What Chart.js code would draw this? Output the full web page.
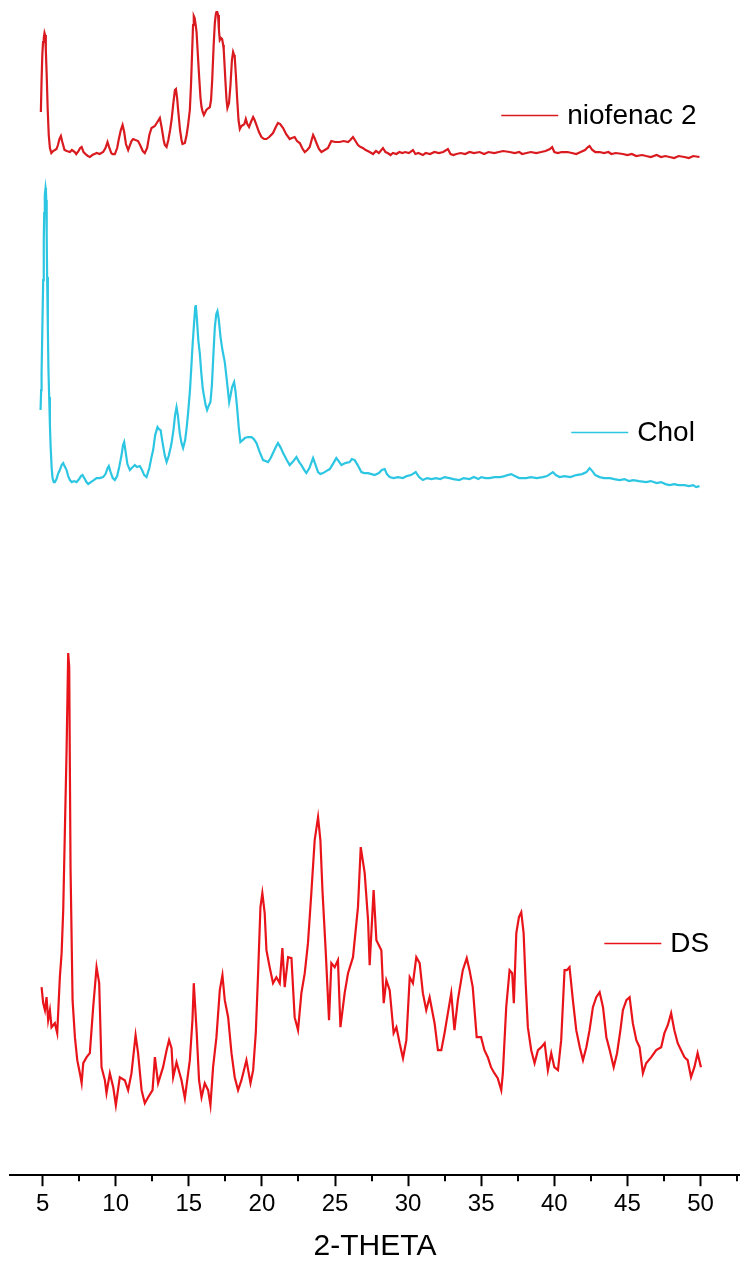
<!DOCTYPE html>
<html>
<head>
<meta charset="utf-8">
<title>XRD patterns</title>
<script src="https://cdn.jsdelivr.net/npm/chart.js@4.4.1/dist/chart.umd.min.js"></script>
<style>
  html, body { margin: 0; padding: 0; background: #fff; }
  #wrap { width: 740px; height: 1267px; position: relative; }
</style>
</head>
<body>
<div id="wrap"><canvas id="xrd"></canvas></div>
<script>
"use strict";
// axis ticks (2-theta, degrees)
const thetaTicks = [5, 10, 15, 20, 25, 30, 35, 40, 45, 50];
const minorTicks = [7.5, 12.5, 17.5, 22.5, 27.5, 32.5, 37.5, 42.5, 47.5, 52.5];

// niofenac 2 (intensity a.u., above its own baseline)
const niofenacTheta = [
    4.88, 4.93, 4.98, 5.03, 5.08, 5.13, 5.17, 5.22, 5.28, 5.35,
    5.42, 5.5, 5.6, 5.72, 5.84, 5.95, 6.05, 6.15, 6.25, 6.35,
    6.5, 6.65, 6.87, 7.0, 7.1, 7.2, 7.3, 7.45, 7.57, 7.67,
    7.8, 8.0, 8.1, 8.23, 8.4, 8.55, 8.7, 8.9, 9.14, 9.3,
    9.44, 9.55, 9.7, 9.78, 9.94, 10.1, 10.2, 10.35, 10.47, 10.58,
    10.7, 10.85, 10.95, 11.08, 11.19, 11.35, 11.53, 11.7, 11.85, 11.99,
    12.15, 12.3, 12.45, 12.68, 12.85, 13.02, 13.15, 13.28, 13.36, 13.48,
    13.6, 13.72, 13.82, 13.95, 14.05, 14.12, 14.2, 14.27, 14.4, 14.5,
    14.57, 14.73, 14.85, 14.95, 15.07, 15.15, 15.22, 15.29, 15.34, 15.4,
    15.47, 15.53, 15.62, 15.7, 15.8, 15.87, 15.95, 16.03, 16.2, 16.35,
    16.44, 16.52, 16.6, 16.7, 16.78, 16.85, 16.89, 16.95, 17.0, 17.06,
    17.12, 17.2, 17.28, 17.35, 17.39, 17.5, 17.58, 17.64, 17.75, 17.85,
    17.95, 18.03, 18.1, 18.14, 18.22, 18.3, 18.4, 18.49, 18.6, 18.71,
    18.8, 18.9, 19.0, 19.12, 19.25, 19.4, 19.5, 19.63, 19.8, 19.97,
    20.15, 20.31, 20.5, 20.76, 20.95, 21.1, 21.25, 21.45, 21.65, 21.9,
    22.05, 22.24, 22.4, 22.59, 22.75, 22.93, 23.1, 23.27, 23.4, 23.5,
    23.6, 23.73, 23.9, 24.07, 24.3, 24.52, 24.65, 24.75, 25.0, 25.32,
    25.6, 25.89, 26.05, 26.23, 26.4, 26.57, 26.75, 26.91, 27.1, 27.37,
    27.6, 27.8, 28.0, 28.28, 28.45, 28.6, 28.8, 28.96, 29.2, 29.4,
    29.6, 29.8, 30.05, 30.33, 30.5, 30.7, 31.01, 31.2, 31.5, 31.8,
    32.1, 32.4, 32.72, 32.9, 33.1, 33.3, 33.6, 33.9, 34.2, 34.5,
    34.89, 35.2, 35.5, 35.9, 36.2, 36.5, 36.94, 37.3, 37.6, 37.8,
    38.1, 38.4, 38.76, 39.1, 39.4, 39.7, 39.85, 40.0, 40.24, 40.5,
    40.9, 41.2, 41.5, 41.8, 42.1, 42.3, 42.41, 42.6, 42.8, 43.1,
    43.4, 43.7, 43.9, 44.2, 44.69, 45.0, 45.3, 45.6, 46.0, 46.28,
    46.6, 47.0, 47.3, 47.6, 47.88, 48.2, 48.5, 48.9, 49.2, 49.5,
    49.93,
];
const niofenacCounts = [
    48, 80, 105, 118, 122, 127, 125, 110, 85, 50,
    25, 12, 7, 9, 10, 11, 15, 21, 24, 18,
    10, 9, 8, 10, 9, 8, 6, 9, 12, 13,
    8, 5, 4, 3, 5, 6, 7, 6, 8, 12,
    18, 13, 7, 6, 6, 12, 20, 30, 35, 28,
    16, 10, 14, 19, 21, 20, 19, 14, 9, 7,
    12, 25, 32, 34, 38, 42, 32, 20, 15, 13,
    20, 30, 40, 58, 70, 71, 62, 50, 30, 20,
    16, 17, 25, 35, 50, 75, 105, 135, 144, 142,
    135, 128, 105, 85, 62, 53, 48, 45, 50, 52,
    53, 60, 80, 115, 137, 146, 148, 148, 145, 130,
    120, 122, 121, 115, 110, 80, 60, 52, 57, 75,
    100, 108, 105, 103, 85, 63, 40, 31, 34, 35,
    36, 41, 36, 33, 38, 43, 40, 35, 28, 23,
    21, 21, 23, 27, 33, 37, 36, 32, 26, 21,
    22, 23, 19, 17, 12, 8, 10, 13, 20, 25,
    22, 17, 11, 8, 10, 12, 16, 19, 18, 18,
    19, 18, 20, 23, 19, 15, 13, 12, 10, 8,
    6, 9, 7, 12, 8, 7, 5, 7, 6, 8,
    7, 8, 7, 10, 6, 7, 5, 7, 6, 8,
    7, 8, 11, 6, 5, 6, 7, 6, 8, 7,
    8, 6, 8, 7, 8, 9, 8, 7, 8, 6,
    7, 8, 7, 8, 9, 11, 13, 8, 7, 8,
    8, 7, 6, 8, 10, 13, 14, 10, 8, 8,
    7, 8, 6, 7, 6, 5, 6, 4, 5, 4,
    3, 5, 3, 4, 3, 2, 4, 3, 2, 4,
    3,
];

// Chol
const cholTheta = [
    4.86, 4.9, 4.93, 4.98, 5.04, 5.08, 5.11, 5.15, 5.2, 5.23,
    5.25, 5.28, 5.31, 5.36, 5.4, 5.45, 5.5, 5.55, 5.62, 5.68,
    5.76, 5.84, 5.95, 6.05, 6.18, 6.3, 6.41, 6.5, 6.64, 6.75,
    6.87, 7.0, 7.15, 7.32, 7.5, 7.62, 7.73, 7.85, 8.0, 8.12,
    8.3, 8.5, 8.69, 8.9, 9.14, 9.3, 9.45, 9.53, 9.65, 9.8,
    9.94, 10.1, 10.24, 10.4, 10.5, 10.58, 10.68, 10.8, 10.97, 11.1,
    11.31, 11.45, 11.65, 11.8, 11.95, 12.11, 12.3, 12.45, 12.56, 12.7,
    12.86, 12.96, 13.07, 13.2, 13.35, 13.48, 13.62, 13.75, 13.82, 13.95,
    14.06, 14.16, 14.25, 14.38, 14.5, 14.61, 14.75, 14.85, 14.95, 15.08,
    15.18, 15.25, 15.35, 15.44, 15.48, 15.55, 15.65, 15.75, 15.85, 15.95,
    16.03, 16.15, 16.25, 16.35, 16.48, 16.58, 16.68, 16.78, 16.88, 16.96,
    17.04, 17.17, 17.3, 17.46, 17.6, 17.76, 17.86, 17.96, 18.1, 18.2,
    18.3, 18.42, 18.53, 18.68, 18.83, 19.05, 19.29, 19.45, 19.63, 19.85,
    20.08, 20.25, 20.42, 20.6, 20.76, 20.95, 21.1, 21.3, 21.45, 21.7,
    21.9, 22.1, 22.36, 22.55, 22.7, 22.9, 23.04, 23.25, 23.5, 23.65,
    23.84, 24.0, 24.18, 24.4, 24.64, 24.85, 25.09, 25.25, 25.44, 25.7,
    26.0, 26.15, 26.35, 26.55, 26.8, 27.0, 27.26, 27.5, 27.71, 28.0,
    28.2, 28.4, 28.55, 28.74, 29.0, 29.3, 29.65, 29.9, 30.2, 30.52,
    30.75, 31.01, 31.3, 31.6, 31.9, 32.2, 32.5, 32.83, 33.1, 33.5,
    33.8, 34.2, 34.5, 34.8, 35.0, 35.3, 35.57, 35.9, 36.3, 36.6,
    36.8, 37.05, 37.3, 37.6, 38.07, 38.4, 38.8, 39.21, 39.5, 39.7,
    39.9, 40.1, 40.36, 40.7, 41.1, 41.5, 41.9, 42.2, 42.41, 42.6,
    42.8, 43.1, 43.4, 43.8, 44.1, 44.46, 44.8, 45.1, 45.4, 45.8,
    46.28, 46.6, 47.0, 47.3, 47.6, 47.88, 48.2, 48.5, 48.9, 49.2,
    49.5, 49.7, 49.93,
];
const cholCounts = [
    80, 100, 117, 160, 210, 250, 277, 295, 302, 298,
    290, 255, 213, 160, 120, 93, 65, 43, 22, 12,
    8, 8, 11, 16, 20, 25, 27, 24, 20, 14,
    10, 8, 9, 8, 11, 14, 15, 12, 8, 6,
    8, 10, 12, 12, 13, 16, 22, 24, 18, 12,
    10, 14, 23, 35, 45, 48, 38, 26, 20, 22,
    25, 23, 24, 20, 15, 13, 22, 33, 40, 55,
    63, 61, 60, 48, 35, 28, 34, 42, 47, 60,
    75, 83, 75, 57, 47, 42, 50, 62, 77, 100,
    125, 143, 165, 183, 185, 172, 150, 137, 118, 102,
    95, 85, 80, 84, 88, 105, 135, 163, 176, 179,
    172, 153, 140, 128, 110, 88, 95, 103, 108, 98,
    83, 62, 48, 50, 52, 53, 53, 51, 47, 38,
    30, 29, 28, 32, 37, 43, 47, 42, 37, 30,
    25, 28, 33, 28, 25, 20, 17, 22, 32, 26,
    18, 16, 17, 19, 21, 26, 32, 29, 25, 27,
    28, 31, 30, 25, 18, 17, 17, 16, 15, 17,
    20, 21, 16, 13, 12, 13, 12, 14, 15, 18,
    13, 10, 12, 11, 12, 11, 13, 12, 11, 10,
    12, 11, 13, 11, 13, 12, 12, 13, 13, 14,
    15, 16, 14, 12, 12, 13, 12, 13, 14, 16,
    18, 15, 13, 14, 13, 15, 16, 18, 22, 19,
    15, 13, 12, 12, 11, 10, 11, 9, 10, 9,
    8, 9, 7, 8, 6, 5, 6, 5, 5, 4,
    5, 3, 4,
];

// DS
const dsTheta = [4.93, 5.04, 5.16, 5.27, 5.38, 5.5, 5.61, 5.84, 6.0, 6.18, 6.3, 6.41, 6.52, 6.64, 6.75, 6.82, 6.91, 7.05, 7.21, 7.37, 7.55, 7.67, 7.78, 8.01, 8.23, 8.46, 8.69, 8.87, 9.03, 9.26, 9.37, 9.6, 9.83, 10.01, 10.28, 10.62, 10.85, 11.08, 11.36, 11.53, 11.77, 11.99, 12.22, 12.52, 12.68, 12.9, 13.24, 13.48, 13.65, 13.82, 13.93, 14.16, 14.5, 14.73, 15.07, 15.25, 15.34, 15.53, 15.7, 15.87, 16.09, 16.32, 16.48, 16.66, 16.89, 17.12, 17.3, 17.46, 17.69, 17.92, 18.14, 18.37, 18.6, 18.94, 19.22, 19.4, 19.58, 19.74, 19.9, 20.03, 20.19, 20.31, 20.53, 20.76, 20.99, 21.22, 21.4, 21.56, 21.79, 22.02, 22.24, 22.47, 22.7, 22.93, 23.15, 23.38, 23.61, 23.84, 24.0, 24.14, 24.36, 24.59, 24.75, 24.98, 25.2, 25.37, 25.66, 25.89, 26.23, 26.57, 26.76, 27.03, 27.26, 27.37, 27.64, 27.83, 28.17, 28.33, 28.51, 28.74, 29.01, 29.2, 29.42, 29.65, 29.88, 30.11, 30.33, 30.56, 30.79, 31.01, 31.24, 31.47, 31.81, 32.04, 32.27, 32.49, 32.72, 32.95, 33.17, 33.4, 33.74, 34.01, 34.2, 34.42, 34.69, 34.99, 35.22, 35.45, 35.67, 35.9, 36.13, 36.37, 36.48, 36.71, 36.94, 37.12, 37.23, 37.4, 37.58, 37.74, 37.9, 38.04, 38.19, 38.42, 38.65, 38.88, 39.11, 39.34, 39.56, 39.79, 40.0, 40.25, 40.47, 40.7, 40.86, 41.04, 41.27, 41.5, 41.74, 41.96, 42.19, 42.41, 42.64, 42.87, 43.1, 43.33, 43.56, 43.79, 44.06, 44.29, 44.52, 44.69, 44.93, 45.15, 45.37, 45.61, 45.83, 46.06, 46.28, 46.63, 46.97, 47.31, 47.53, 47.76, 47.99, 48.21, 48.44, 48.67, 48.9, 49.12, 49.35, 49.58, 49.8, 50.03];
const dsCounts = [123, 107, 100, 113, 90, 100, 83, 87, 77, 133, 157, 200, 277, 360, 457, 443, 243, 110, 73, 50, 37, 27, 47, 53, 57, 103, 143, 127, 43, 30, 17, 37, 23, 5, 33, 30, 20, 37, 75, 57, 20, 7, 13, 20, 53, 27, 43, 60, 70, 62, 33, 48, 30, 12, 50, 90, 127, 80, 30, 13, 27, 20, 5, 43, 73, 120, 135, 110, 93, 57, 33, 20, 30, 50, 27, 40, 77, 137, 203, 217, 197, 160, 143, 127, 133, 127, 162, 123, 153, 152, 93, 80, 117, 137, 167, 217, 270, 293, 270, 220, 160, 90, 147, 143, 150, 83, 117, 137, 153, 203, 263, 237, 190, 145, 220, 170, 160, 107, 130, 120, 77, 83, 67, 52, 70, 133, 127, 153, 147, 117, 100, 113, 87, 60, 60, 77, 97, 117, 80, 110, 140, 152, 140, 123, 73, 73, 60, 53, 43, 37, 32, 20, 37, 103, 140, 137, 107, 177, 193, 198, 177, 127, 83, 60, 47, 60, 63, 67, 40, 57, 43, 40, 70, 140, 140, 143, 110, 80, 63, 50, 63, 80, 103, 113, 118, 103, 73, 60, 43, 57, 80, 100, 110, 113, 87, 70, 63, 37, 47, 53, 60, 63, 77, 85, 97, 80, 67, 60, 53, 50, 33, 43, 57, 43];

// vertical stacking of the three patterns
const stackOffsets = { niofenac: 1015, chol: 685, ds: 65 };
const yTop = 1175;

const red1 = "#d91a1f";
const red2 = "#e8141a";
const cyan = "#2cc6e2";

function toPoints(theta, counts, offset) {
    return theta.map((t, i) => ({ x: t, y: counts[i] + offset }));
}

const legendItems = [
    { label: "niofenac 2", color: red1, theta: 36.37, level: 1060 },
    { label: "Chol", color: cyan, theta: 41.16, level: 743 },
    { label: "DS", color: red2, theta: 43.42, level: 232 },
];

const minorTickPlugin = {
    id: "minorTicks",
    afterDraw(chart) {
        const { ctx, scales: { x } } = chart;
        ctx.save();
        ctx.strokeStyle = "#000";
        ctx.lineWidth = 2;
        minorTicks.forEach((v) => {
            const px = Math.round(x.getPixelForValue(v));
            ctx.beginPath();
            ctx.moveTo(px, x.top);
            ctx.lineTo(px, x.top + 6);
            ctx.stroke();
        });
        ctx.restore();
    },
};

const inlineLegendPlugin = {
    id: "inlineLegend",
    afterDraw(chart) {
        const { ctx, scales: { x, y } } = chart;
        ctx.save();
        ctx.font = "28px 'Liberation Sans', Arial, sans-serif";
        ctx.textBaseline = "middle";
        ctx.fillStyle = "#000";
        legendItems.forEach((item) => {
            const px = x.getPixelForValue(item.theta);
            const py = Math.round(y.getPixelForValue(item.level)) + 0.5;
            ctx.strokeStyle = item.color;
            ctx.lineWidth = 1.6;
            ctx.beginPath();
            ctx.moveTo(px, py);
            ctx.lineTo(px + 57, py);
            ctx.stroke();
            ctx.fillText(item.label, px + 66, py + 1);
        });
        ctx.restore();
    },
};

Chart.defaults.font.family = "'Liberation Sans', Arial, sans-serif";
Chart.defaults.color = "#000";

const xrdConfig = {
    type: "line",
    data: {
        datasets: [
            {
                label: "niofenac 2",
                data: toPoints(niofenacTheta, niofenacCounts, stackOffsets.niofenac),
                borderColor: red1,
                borderWidth: 2.2,
            },
            {
                label: "Chol",
                data: toPoints(cholTheta, cholCounts, stackOffsets.chol),
                borderColor: cyan,
                borderWidth: 2.2,
            },
            {
                label: "DS",
                data: toPoints(dsTheta, dsCounts, stackOffsets.ds),
                borderColor: red2,
                borderWidth: 2.2,
            },
        ],
    },
    options: {
        responsive: true,
        maintainAspectRatio: false,
        animation: false,
        elements: {
            point: { radius: 0 },
            line: { tension: 0, fill: false },
        },
        layout: { padding: { left: 10, right: 0, top: 0, bottom: 2 } },
        plugins: {
            legend: { display: false },
            tooltip: { enabled: false },
        },
        scales: {
            x: {
                type: "linear",
                position: "bottom",
                min: 2.77,
                max: 52.7,
                afterBuildTicks: (scale) => {
                    scale.ticks = thetaTicks.map((v) => ({ value: v }));
                },
                grid: {
                    drawOnChartArea: false,
                    drawTicks: true,
                    tickLength: 11,
                    tickWidth: 2,
                    tickColor: "#000",
                },
                border: { display: true, color: "#000", width: 2 },
                ticks: {
                    color: "#000",
                    font: { size: 24 },
                    padding: 4,
                    maxRotation: 0,
                    autoSkip: false,
                },
                title: {
                    display: true,
                    text: "2-THETA",
                    color: "#000",
                    font: { size: 30 },
                    padding: { top: 6, bottom: 0 },
                },
            },
            y: {
                display: false,
                min: 0,
                max: yTop,
            },
        },
    },
    plugins: [minorTickPlugin, inlineLegendPlugin],
};

new Chart(document.querySelector("#xrd"), xrdConfig);
</script>
</body>
</html>
